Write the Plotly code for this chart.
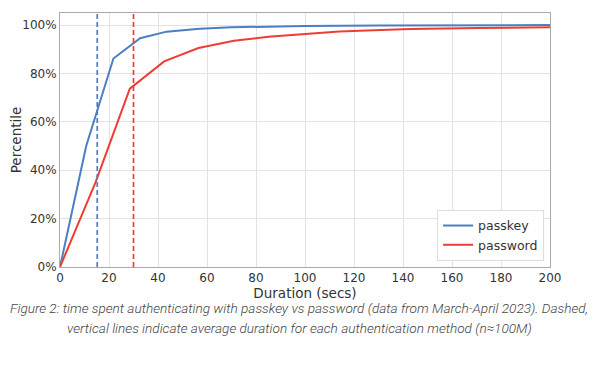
import plotly.graph_objects as go

# Data
passkey_x = [0, 10.7, 21.8, 32.7, 43.5, 57, 70, 85, 100, 130, 160, 200]
passkey_y = [0, 50, 86.2, 94.6, 97.3, 98.5, 99.1, 99.4, 99.6, 99.8, 99.9, 100]
password_x = [0, 14.5, 28.5, 42.5, 56.5, 71, 85, 100, 114, 128, 143, 171, 200]
password_y = [0, 35, 73.7, 85, 90.5, 93.5, 95.2, 96.4, 97.4, 97.9, 98.4, 98.8, 99.1]
mean_passkey = 15.2
mean_password = 30
x_ticks = [0, 20, 40, 60, 80, 100, 120, 140, 160, 180, 200]
y_ticks = [0, 20, 40, 60, 80, 100]
y_tick_labels = ["0%", "20%", "40%", "60%", "80%", "100%"]
caption_lines = [
    "Figure 2: time spent authenticating with passkey vs password (data from March-April 2023). Dashed,",
    "vertical lines indicate average duration for each authentication method (n≈100M)",
]

BLUE = "#4a7fc1"
RED = "#ee3e34"
FONT = "DejaVu Sans"

fig = go.Figure()
fig.add_trace(go.Scatter(x=passkey_x, y=passkey_y, mode="lines", name="passkey",
                         line=dict(color=BLUE, width=2)))
fig.add_trace(go.Scatter(x=password_x, y=password_y, mode="lines", name="password",
                         line=dict(color=RED, width=2)))

fig.add_vline(x=mean_passkey, line=dict(color=BLUE, width=1.7, dash="5px,3px"))
fig.add_vline(x=mean_password, line=dict(color=RED, width=1.7, dash="5px,3px"))

fig.update_layout(
    width=589, height=359,
    margin=dict(l=52, r=47, t=5, b=100, autoexpand=False),
    paper_bgcolor="white", plot_bgcolor="white",
    font=dict(family=FONT, size=12, color="#333333"),
    showlegend=True,
    legend=dict(x=0.988, y=0.024, xanchor="right", yanchor="bottom",
                bgcolor="white", bordercolor="#dddddd", borderwidth=1,
                font=dict(family=FONT, size=12.5, color="#333333"),
                itemwidth=30, tracegroupgap=0),
    xaxis=dict(range=[0, 200], tickvals=x_ticks, showgrid=True, gridcolor="#e3e3e3",
               gridwidth=1, zeroline=False, showline=True, linecolor="#aaaaaa",
               mirror=True, ticks="", automargin=False,
               title=dict(text="Duration (secs)", standoff=0, font=dict(size=13.5)),
               tickfont=dict(size=12)),
    yaxis=dict(range=[0, 105], tickvals=y_ticks, ticktext=y_tick_labels, showgrid=True,
               gridcolor="#e3e3e3", gridwidth=1, zeroline=False, showline=True,
               linecolor="#aaaaaa", mirror=True, ticks="", automargin=False,
               title=dict(text="Percentile", standoff=8, font=dict(size=13.5)),
               tickfont=dict(size=12)),
)

for i, line in enumerate(caption_lines):
    fig.add_annotation(
        xref="paper", yref="paper", x=0.5, y=0, xanchor="center", yanchor="middle",
        yshift=-41 - 20 * i, xshift=-6,
        text="<i>" + line + "</i>",
        showarrow=False, align="center",
        font=dict(family="Roboto", size=13.6, color="#444444", weight=300),
    )

fig.write_html("out.html")
